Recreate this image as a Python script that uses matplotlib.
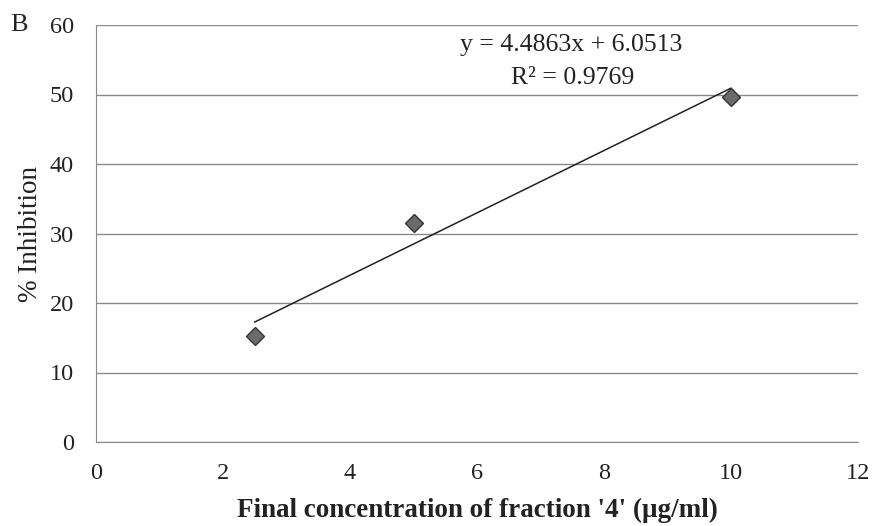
import numpy as np
import matplotlib.pyplot as plt

# Data
conc = [2.5, 5, 10]            # final concentration [ug/ml]
inhibition = [15.2, 31.5, 49.6]  # [%]
slope, intercept = 4.4863, 6.0513
r2 = 0.9769

plt.rcParams['font.family'] = ['Liberation Serif', 'DejaVu Serif']

fig = plt.figure(figsize=(8.76, 5.26), dpi=100)
ax = fig.add_axes([96/876, 1-442/526, (858-96)/876, (442-25)/526])

# Trend line from the fitted equation
xfit = np.array([conc[0], conc[-1]])
ax.plot(xfit, slope*xfit + intercept, color='#222222', lw=1.1, zorder=3)

# Measured points
ax.plot(conc, inhibition, 'D', ms=9, color='#6a6a6a', mec='#333333', mew=1.0, zorder=4)

ax.set_xlim(0, 12)
ax.set_ylim(0, 60)
ax.set_xticks(np.arange(0, 13, 2))
ax.set_yticks(np.arange(0, 61, 10))

# Horizontal gridlines only
ax.grid(axis='y', color='#8a8a8a', lw=1.0)
ax.set_axisbelow(True)
for s in ['top', 'right']:
    ax.spines[s].set_visible(False)
for s in ['left', 'bottom']:
    ax.spines[s].set_color('#8a8a8a')
ax.tick_params(length=0, labelsize=17.5, colors='#222222')
ax.tick_params(axis='y', pad=16)
ax.tick_params(axis='x', pad=15)

ax.set_ylabel('% Inhibition', fontsize=19.5, color='#222222', labelpad=5)
ax.set_xlabel("Final concentration of fraction '4' (\u03bcg/ml)", fontsize=19.5,
              fontweight='bold', color='#222222', labelpad=10)

ax.text(7.48, 57.1, 'y = %.4fx + %.4f' % (slope, intercept), fontsize=18.5,
        ha='center', va='center', color='#222222')
ax.text(7.5, 52.4, 'R\u00b2 = %.4f' % r2, fontsize=18.5,
        ha='center', va='center', color='#222222')

fig.text(10/876, 1-25/526, 'B', fontsize=19, va='center', color='#222222')

fig.savefig('out.png', dpi=100)
